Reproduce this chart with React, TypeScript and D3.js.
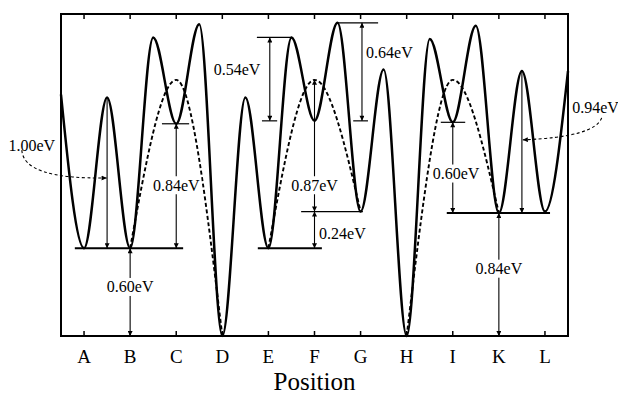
import React from 'react';
import * as d3 from 'd3';

// sites along the diffusion path
const sites = ['A', 'B', 'C', 'D', 'E', 'F', 'G', 'H', 'I', 'K', 'L'];

// solid landscape: energy (eV) at each site and at the saddles between sites
const solidPos = [-0.5, 0, 0.5, 1, 1.5, 2, 2.5, 3, 3.5, 4, 4.5, 5, 5.5, 6, 6.5, 7, 7.5, 8, 8.5, 9, 9.5, 10, 10.5];
const solidEnergy = [1.65, 0.6, 1.63, 0.6, 2.04, 1.45, 2.13, 0.0, 1.63, 0.6, 2.04, 1.47, 2.14, 0.85, 1.82, 0.0, 2.03, 1.46, 2.12, 0.84, 1.81, 0.85, 1.81];

// dashed (direct) paths: B-C-D, E-F-G, H-I-K
const dashedPos = [[1, 2, 3], [4, 5, 6], [7, 8, 9]];
const dashedEnergy = [[0.6, 1.75, 0.0], [0.6, 1.75, 0.85], [0.0, 1.75, 0.84]];

// horizontal reference levels
const levels = [
  { from: -0.2, to: 2.15, e: 0.6, bold: true },
  { from: 1.69, to: 2.28, e: 1.45, bold: false },
  { from: 3.77, to: 5.16, e: 0.6, bold: true },
  { from: 4.71, to: 6.05, e: 0.85, bold: false },
  { from: 3.75, to: 4.51, e: 2.04, bold: false },
  { from: 3.86, to: 4.19, e: 1.47, bold: false },
  { from: 5.49, to: 6.38, e: 2.14, bold: false },
  { from: 5.84, to: 6.16, e: 1.47, bold: false },
  { from: 7.74, to: 8.27, e: 1.46, bold: false },
  { from: 7.87, to: 10.11, e: 0.84, bold: true },
];

// vertical energy arrows
const arrows = [
  { x: 1, from: 0, to: 0.6, both: true },
  { x: 0.5, from: 1.63, to: 0.6, both: false },
  { x: 2, from: 0.6, to: 1.45, both: true },
  { x: 4.03, from: 1.47, to: 2.04, both: true },
  { x: 6.03, from: 1.47, to: 2.14, both: true },
  { x: 5, from: 0.85, to: 1.75, both: true },
  { x: 5, from: 0.6, to: 0.85, both: true },
  { x: 8, from: 0.84, to: 1.46, both: true },
  { x: 9, from: 0, to: 0.84, both: true },
  { x: 9.5, from: 1.81, to: 0.84, both: false },
];

// barrier labels
const labels = [
  { text: '0.60eV', x: 1, e: 0.335, anchor: 'middle', box: true },
  { text: '1.00eV', x: -1.64, e: 1.3, anchor: 'start', box: false },
  { text: '0.84eV', x: 2, e: 1.03, anchor: 'middle', box: true },
  { text: '0.54eV', x: 3.32, e: 1.82, anchor: 'middle', box: false },
  { text: '0.64eV', x: 6.12, e: 1.94, anchor: 'start', box: false },
  { text: '0.87eV', x: 5, e: 1.03, anchor: 'middle', box: true },
  { text: '0.24eV', x: 5.1, e: 0.7, anchor: 'start', box: false },
  { text: '0.60eV', x: 8.07, e: 1.11, anchor: 'middle', box: true },
  { text: '0.84eV', x: 9, e: 0.46, anchor: 'middle', box: true },
  { text: '0.94eV', x: 10.59, e: 1.56, anchor: 'start', box: false },
];

// dashed leaders from outside labels to their arrows
const leaders = [
  { start: [-1.35, 1.27], ctrl: [-1.31, 1.07], end: [0.49, 1.08] },
  { start: [11.23, 1.49], ctrl: [11.08, 1.36], end: [9.52, 1.34] },
];

const W = 618;
const H = 395;
const font = 'Liberation Serif, Tinos, DejaVu Serif, serif';

export default function App() {
  const x = d3.scaleLinear().domain([-0.5, 10.5]).range([61, 568]);
  const y = d3.scaleLinear().domain([0, 2.2]).range([336, 14]);

  const line = d3
    .line<[number, number]>()
    .x((d) => x(d[0]))
    .y((d) => y(d[1]))
    .curve(d3.curveMonotoneX);

  const solid = line(solidPos.map((p, i) => [p, solidEnergy[i]]));
  const dashed = dashedPos.map((ps, k) => line(ps.map((p, i) => [p, dashedEnergy[k][i]])));

  return (
    <svg
      width={W}
      height={H}
      style={{ position: 'absolute', left: 0, top: 0, background: '#fff', fontFamily: font }}
    >
      <defs>
        <marker
          id="ah"
          viewBox="0 0 10 10"
          refX="10"
          refY="5"
          markerWidth="7"
          markerHeight="5"
          markerUnits="userSpaceOnUse"
          orient="auto-start-reverse"
        >
          <path d="M0,0 L10,5 L0,10 z" fill="#000" />
        </marker>
      </defs>

      {dashed.map((d, i) => (
        <path key={i} d={d || ''} fill="none" stroke="#000" strokeWidth={1.9} strokeDasharray="4,2.5" />
      ))}
      <path d={solid || ''} fill="none" stroke="#000" strokeWidth={2.5} />

      {levels.map((l, i) => (
        <line
          key={i}
          x1={x(l.from)}
          x2={x(l.to)}
          y1={y(l.e)}
          y2={y(l.e)}
          stroke="#000"
          strokeWidth={l.bold ? 2 : 1.2}
        />
      ))}

      {arrows.map((a, i) => (
        <line
          key={i}
          x1={x(a.x)}
          x2={x(a.x)}
          y1={y(a.from)}
          y2={y(a.to)}
          stroke="#000"
          strokeWidth={1.1}
          markerEnd="url(#ah)"
          markerStart={a.both ? 'url(#ah)' : undefined}
        />
      ))}

      {leaders.map((l, i) => {
        const p = d3.path();
        p.moveTo(x(l.start[0]), y(l.start[1]));
        p.quadraticCurveTo(x(l.ctrl[0]), y(l.ctrl[1]), x(l.end[0]), y(l.end[1]));
        return (
          <path
            key={i}
            d={p.toString()}
            fill="none"
            stroke="#000"
            strokeWidth={1.1}
            strokeDasharray="3,2.5"
            markerEnd="url(#ah)"
          />
        );
      })}

      {labels.map((l, i) => (
        <g key={i}>
          {l.box && <rect x={x(l.x) - 25} y={y(l.e) - 9} width={50} height={18} fill="#fff" />}
          <text
            x={x(l.x)}
            y={y(l.e)}
            textAnchor={l.anchor}
            dominantBaseline="central"
            style={{ fontFamily: font }}
            fontSize={16}
            fill="#000"
          >
            {l.text}
          </text>
        </g>
      ))}

      {/* frame */}
      <rect x={61} y={14} width={507} height={322} fill="none" stroke="#000" strokeWidth={2} />
      {sites.map((s, i) => (
        <g key={s}>
          <line x1={x(i)} x2={x(i)} y1={336} y2={331} stroke="#000" strokeWidth={1.5} />
          <line x1={x(i)} x2={x(i)} y1={14} y2={19} stroke="#000" strokeWidth={1.5} />
          <text x={x(i)} y={363} textAnchor="middle" style={{ fontFamily: font }} fontSize={19} fill="#000">
            {s}
          </text>
        </g>
      ))}
      <text x={x(5)} y={390} textAnchor="middle" style={{ fontFamily: font }} fontSize={25} fill="#000">
        Position
      </text>
    </svg>
  );
}
